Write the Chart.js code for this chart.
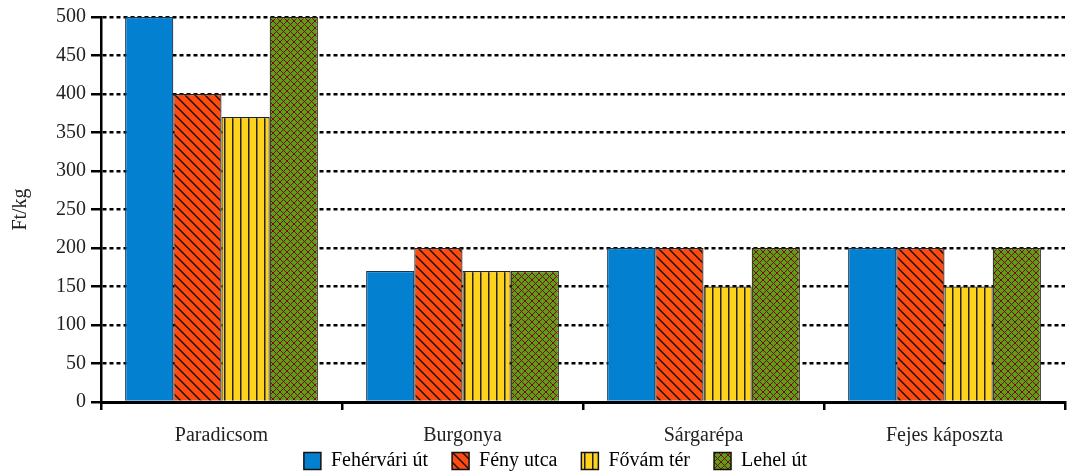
<!DOCTYPE html>
<html>
<head>
<meta charset="utf-8">
<script src="https://cdn.jsdelivr.net/npm/chart.js@4"></script>
<style>
  html, body { margin: 0; padding: 0; background: #fff; }
  #wrap { width: 1067px; height: 474px; }
</style>
</head>
<body>
<div id="wrap"><canvas id="myChart"></canvas></div>
<script>
const categories = ["Paradicsom", "Burgonya", "Sárgarépa", "Fejes káposzta"];
const seriesNames = ["Fehérvári út", "Fény utca", "Fővám tér", "Lehel út"];
const fehervari = [500, 170, 200, 200];
const fenyUtca = [400, 200, 200, 200];
const fovamTer = [370, 170, 150, 150];
const lehelUt = [500, 170, 200, 200];
const yTicks = [0, 50, 100, 150, 200, 250, 300, 350, 400, 450, 500];

// Build fill patterns
function makePattern(size, draw) {
  const c = document.createElement("canvas");
  c.width = size; c.height = size;
  const g = c.getContext("2d");
  draw(g, size);
  return g.createPattern(c, "repeat");
}

const blueFill = "#0480d0";
const diagFill = makePattern(10, function (g, s) {
  g.fillStyle = "#ff4a10";
  g.fillRect(0, 0, s, s);
  g.strokeStyle = "#111";
  g.lineWidth = 1.4;
  g.beginPath();
  g.moveTo(-2, -2); g.lineTo(s + 2, s + 2);
  g.moveTo(-2 - s, -2); g.lineTo(2, s + 2);
  g.moveTo(s - 2, -2); g.lineTo(2 * s + 2, s + 2);
  g.stroke();
});
const vertFill = makePattern(8, function (g, s) {
  g.fillStyle = "#ffd21e";
  g.fillRect(0, 0, s, s);
  g.fillStyle = "#222";
  g.fillRect(0, 0, 1.5, s);
});
const crossFill = makePattern(7, function (g, s) {
  g.fillStyle = "#5c9e18";
  g.fillRect(0, 0, s, s);
  g.strokeStyle = "#800808";
  g.lineWidth = 1;
  g.beginPath();
  g.moveTo(0, 0); g.lineTo(s, s);
  g.moveTo(s, 0); g.lineTo(0, s);
  g.stroke();
});

const fills = [blueFill, diagFill, vertFill, crossFill];
const seriesData = [fehervari, fenyUtca, fovamTer, lehelUt];
const borders = ["#1b3550", "#222", "#222", "#222"];

const fontFam = "'Liberation Serif', 'DejaVu Serif', serif";

new Chart(document.getElementById("myChart"), {
  type: "bar",
  data: {
    labels: categories,
    datasets: seriesNames.map(function (name, i) {
      return {
        label: name,
        data: seriesData[i],
        backgroundColor: fills[i],
        borderColor: borders[i],
        borderWidth: 1.2,
        categoryPercentage: 0.8,
        barPercentage: 1.0
      };
    })
  },
  options: {
    responsive: true,
    maintainAspectRatio: false,
    animation: false,
    layout: { padding: { top: 9, right: 2, left: 0, bottom: 0 } },
    plugins: {
      tooltip: { enabled: false },
      legend: {
        position: "bottom",
        fullSize: false,
        maxHeight: 27,
        labels: {
          font: { family: fontFam, size: 20 },
          color: "#222",
          boxWidth: 17,
          boxHeight: 17,
          padding: 4,
          generateLabels: function (chart) {
            const n = chart.data.datasets.length;
            return chart.data.datasets.map(function (ds, i) {
              // trailing spaces widen the gaps and pull the row to the left
              return {
                text: ds.label + (i < n - 1 ? "    " : "           "),
                fillStyle: fills[i],
                strokeStyle: "#111",
                lineWidth: 1.5,
                datasetIndex: i
              };
            });
          }
        }
      }
    },
    scales: {
      x: {
        offset: true,
        grid: {
          offset: true,
          drawOnChartArea: false,
          color: "#000",
          lineWidth: 2.5,
          tickLength: 8
        },
        border: { color: "#000", width: 3 },
        ticks: {
          font: { family: fontFam, size: 20 },
          color: "#222",
          padding: 14
        },
        afterFit: function (axis) { axis.height = 45; }
      },
      y: {
        min: 0,
        max: 500,
        afterBuildTicks: function (axis) {
          axis.ticks = yTicks.map(function (v) { return { value: v }; });
        },
        grid: {
          color: "#000",
          lineWidth: 2.5,
          tickLength: 10,
          tickBorderDash: []
        },
        border: { color: "#000", width: 2.5, dash: [4, 3] },
        ticks: {
          font: { family: fontFam, size: 20 },
          color: "#222",
          padding: 5
        },
        title: {
          display: true,
          text: "Ft/kg",
          font: { family: fontFam, size: 20 },
          color: "#222",
          padding: { top: 9, bottom: 0 }
        },
        afterFit: function (axis) { axis.width = 101; }
      }
    }
  }
});
</script>
</body>
</html>
